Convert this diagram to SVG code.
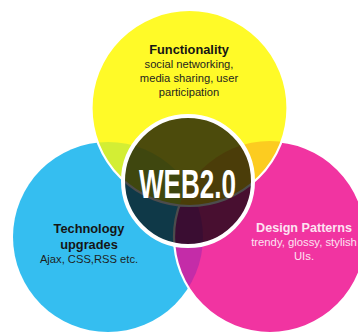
<svg xmlns="http://www.w3.org/2000/svg" width="358" height="334" viewBox="0 0 358 334">
<style>
.title{font-family:"Liberation Sans",Arial,sans-serif;font-weight:bold;font-size:12.8px;fill:#151515;text-anchor:middle}
.body{font-family:"Liberation Sans",Arial,sans-serif;font-size:11.2px;fill:#1e1e1e;text-anchor:middle}
.ptitle{font-family:"Liberation Sans",Arial,sans-serif;font-weight:bold;font-size:12.6px;fill:#fde3f2;text-anchor:middle}
.pbody{font-family:"Liberation Sans",Arial,sans-serif;font-size:11.3px;fill:#fde3f2;text-anchor:middle}
.edge{fill:none;stroke:#ffffff;stroke-width:2.2}
</style>
<defs>
<clipPath id="clipBlue"><circle cx="108" cy="237" r="95"/></clipPath>
<clipPath id="clipPink"><circle cx="270" cy="237" r="96"/></clipPath>
</defs>
<rect width="358" height="334" fill="#ffffff"/>
<g id="node-technology">
<circle cx="108" cy="237" r="95" fill="#35bef0"/>
</g>
<g id="node-design">
<circle cx="270" cy="237" r="96" fill="#f134a1"/>
<circle cx="270" cy="237" r="96" fill="#c42ca8" clip-path="url(#clipBlue)"/>
<circle class="edge" cx="270" cy="237" r="96"/>
</g>
<g id="node-functionality">
<circle cx="189.5" cy="108" r="98" fill="#fffa28"/>
<circle cx="189.5" cy="108" r="98" fill="#d3ee34" clip-path="url(#clipBlue)"/>
<circle cx="189.5" cy="108" r="98" fill="#fccc20" clip-path="url(#clipPink)"/>
<circle class="edge" cx="189.5" cy="108" r="98"/>
</g>
<g id="connectors"></g>
<g id="node-web20">
<circle cx="188" cy="181" r="65" fill="#000000" fill-opacity="0.7" stroke="#ffffff" stroke-width="4"/>
<text x="187.5" y="198" font-family="'Liberation Sans',Arial,sans-serif" font-weight="bold" font-size="40" fill="#ffffff" text-anchor="middle" textLength="97" lengthAdjust="spacingAndGlyphs">WEB2.0</text>
</g>
<g id="labels-functionality">
<text class="title" x="189" y="54">Functionality</text>
<text class="body" x="189" y="68">social networking,</text>
<text class="body" x="189" y="82">media sharing, user</text>
<text class="body" x="189" y="96">participation</text>
</g>
<g id="labels-technology">
<text class="title" x="89" y="233">Technology</text>
<text class="title" x="89" y="249">upgrades</text>
<text class="body" x="89" y="263">Ajax, CSS,RSS etc.</text>
</g>
<g id="labels-design">
<text class="ptitle" x="304" y="232">Design Patterns</text>
<text class="pbody" x="304" y="246">trendy, glossy, stylish</text>
<text class="pbody" x="304" y="260">UIs.</text>
</g>
</svg>
